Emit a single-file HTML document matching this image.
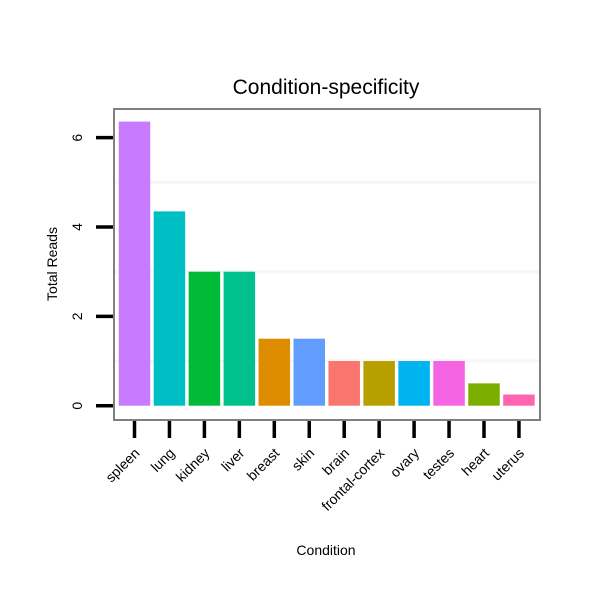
<!DOCTYPE html>
<html><head><meta charset="utf-8"><style>
body{margin:0;background:#fff;font-family:"Liberation Sans",sans-serif}
svg text{font-family:"Liberation Sans",sans-serif}
</style></head><body>
<svg id="chart" width="600" height="600" viewBox="0 0 600 600">
<rect x="0" y="0" width="600" height="600" fill="#fff"/>
<text x="326" y="94" font-size="21" text-anchor="middle" fill="#000">Condition-specificity</text>
<g id="grid"></g>
<g id="bars"></g>
<rect x="114" y="109" width="426" height="311" fill="none" stroke="#808080" stroke-width="2"/>
<g id="axes"></g>
<text x="326" y="555" font-size="14" text-anchor="middle">Condition</text>
<text transform="translate(57,264) rotate(-90)" font-size="14" text-anchor="middle">Total Reads</text>
</svg>
<script>
const categories=["spleen","lung","kidney","liver","breast","skin","brain","frontal-cortex","ovary","testes","heart","uterus"];
const values=[6.36,4.35,3,3,1.5,1.5,1,1,1,1,0.5,0.25];
const colors=["#C77CFF","#00BFC4","#00BA38","#00C08B","#DE8C00","#619CFF","#F8766D","#B79F00","#00B4F0","#F564E3","#7CAE00","#FF64B0"];
const yTicks=[0,2,4,6];
const yGrid=[1,3,5];
const NS="http://www.w3.org/2000/svg";
function y(v){return 405.7-v*44.67;}
function xc(i){return 134.5+i*34.95;}
const bw=31.5;
function mk(tag,attrs,parent){const e=document.createElementNS(NS,tag);for(const k in attrs)e.setAttribute(k,attrs[k]);document.getElementById(parent).appendChild(e);return e;}
yGrid.forEach(v=>{
  const l=mk("line",{x1:115,x2:539,y1:y(v),y2:y(v),stroke:"#f6f6f6","stroke-width":3},"grid");
  
  
});
categories.forEach((c,i)=>{
  const r=mk("rect",{x:xc(i)-bw/2,y:y(values[i]),width:bw,height:y(0)-y(values[i]),fill:colors[i]},"bars");
  
  
  const t=mk("line",{x1:xc(i),x2:xc(i),y1:421,y2:438,stroke:"#000","stroke-width":3.5},"axes");
  
  
  const lb=mk("text",{transform:`translate(${xc(i)+6},454) rotate(-45)`,"font-size":14,"text-anchor":"end"},"axes");
  lb.textContent=c;
  
  
});
yTicks.forEach(v=>{
  const t=mk("line",{x1:96,x2:113,y1:y(v),y2:y(v),stroke:"#000","stroke-width":3.5},"axes");
  
  
  const lb=mk("text",{transform:`translate(82,${y(v)}) rotate(-90)`,"font-size":14,"text-anchor":"middle"},"axes");
  lb.textContent=v;
  
  
});
</script>
</body></html>
